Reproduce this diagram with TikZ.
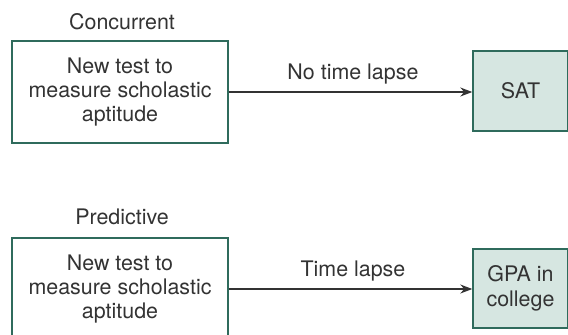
\documentclass[tikz,border=0pt]{standalone}
\usepackage{fontspec}
\setmainfont{TeX Gyre Heros}
\usetikzlibrary{arrows.meta}
\definecolor{boxline}{HTML}{2F6B5C}
\definecolor{boxfill}{HTML}{D6E6E1}
\definecolor{txt}{HTML}{333333}
\begin{document}
\begin{tikzpicture}[x=1bp,y=-1bp,
  every node/.style={text=txt,font=\fontsize{21.5}{24.5}\selectfont},
  testbox/.style={draw=boxline,line width=1.4bp,minimum width=216bp,minimum height=102bp,align=center,inner sep=0pt},
  critbox/.style={draw=boxline,fill=boxfill,line width=1.4bp,minimum width=95bp,align=center,inner sep=0pt},
  conn/.style={draw=txt,line width=1.3bp,-{Stealth[length=12bp,width=9bp]}},
  lab/.style={inner sep=0pt,anchor=base}]
\useasboundingbox (0,0) rectangle (568,334);
\begin{scope}
\clip (0,0) rectangle (568,334);
\node[lab] (t1) at (122,29) {Concurrent};
\node[testbox] (a1) at (120,92) {New test to\\measure scholastic\\aptitude};
\node[critbox,minimum height=80bp] (b1) at (520.5,91) {SAT};
\draw[conn] (a1.east) -- (b1.west |- a1.east) node[lab,pos=0.51,above=7bp] (l1) {No time lapse};

\node[lab] (t2) at (122,224) {Predictive};
\node[testbox] (a2) at (120,289) {New test to\\measure scholastic\\aptitude};
\node[critbox,minimum height=79bp] (b2) at (520.5,288.5) {GPA in\\college};
\draw[conn] (a2.east) -- (b2.west |- a2.east) node[lab,pos=0.51,above=7bp] (l2) {Time lapse};
\end{scope}
\end{tikzpicture}
\end{document}
